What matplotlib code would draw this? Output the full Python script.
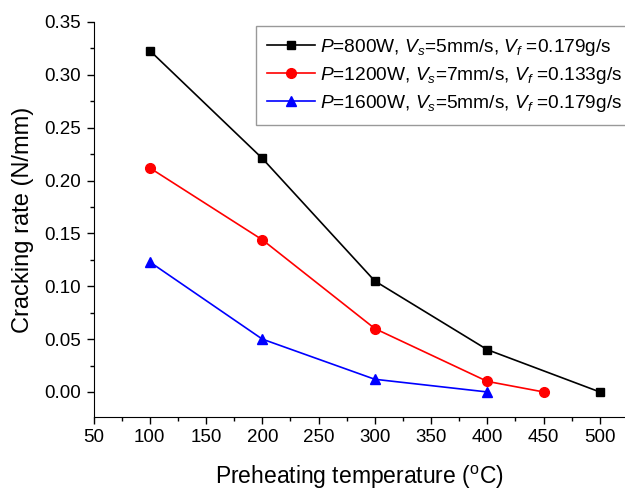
import matplotlib
matplotlib.use('Agg')
import matplotlib.pyplot as plt
from matplotlib.ticker import MultipleLocator

plt.rcParams['font.family'] = ['Liberation Sans', 'DejaVu Sans']
plt.rcParams['mathtext.fontset'] = 'custom'
plt.rcParams['mathtext.rm'] = 'Liberation Sans'
plt.rcParams['mathtext.it'] = 'Liberation Sans:italic'

# data
temp_800 = [100, 200, 300, 400, 500]
rate_800 = [0.323, 0.221, 0.105, 0.040, 0.000]
temp_1200 = [100, 200, 300, 400, 450]
rate_1200 = [0.212, 0.144, 0.060, 0.010, 0.000]
temp_1600 = [100, 200, 300, 400]
rate_1600 = [0.123, 0.050, 0.012, 0.000]

labels = [
    r'$P$=800W, $V_s$=5mm/s, $V_f$ =0.179g/s',
    r'$P$=1200W, $V_s$=7mm/s, $V_f$ =0.133g/s',
    r'$P$=1600W, $V_s$=5mm/s, $V_f$ =0.179g/s',
]

fig = plt.figure(figsize=(6.25, 4.91), dpi=100)
ax = fig.add_axes([0.1496, 0.1507, 0.8504, 0.8045])

ax.plot(temp_800, rate_800, color='black', marker='s', ms=6, lw=1.2, label=labels[0])
ax.plot(temp_1200, rate_1200, color='red', marker='o', ms=7, lw=1.2, label=labels[1])
ax.plot(temp_1600, rate_1600, color='blue', marker='^', ms=7.5, lw=1.2, label=labels[2])

ax.set_xlim(50, 522.4)
ax.set_ylim(-0.0237, 0.35)
ax.xaxis.set_major_locator(MultipleLocator(50))
ax.xaxis.set_minor_locator(MultipleLocator(25))
ax.yaxis.set_major_locator(MultipleLocator(0.05))
ax.yaxis.set_minor_locator(MultipleLocator(0.025))
ax.yaxis.set_major_formatter(plt.FuncFormatter(lambda v, p: f'{v:.2f}'))

ax.spines['top'].set_visible(False)
ax.spines['right'].set_visible(False)
ax.tick_params(which='major', direction='out', length=5, width=1, labelsize=13.5)
ax.tick_params(axis='x', which='major', pad=3.3)
ax.tick_params(axis='y', which='major', pad=4.3)
ax.tick_params(which='minor', direction='out', length=3, width=1)

ax.set_xlabel(r'Preheating temperature ($^{\rm o}$C)', fontsize=16.5, labelpad=13)
ax.set_ylabel('Cracking rate (N/mm)', fontsize=17, labelpad=7)

leg = ax.legend(loc='upper left', bbox_to_anchor=(0.41, 0.947), bbox_transform=fig.transFigure,
                borderaxespad=0, fontsize=13.8, fancybox=False, edgecolor='gray',
                handlelength=2.5, labelspacing=0.38, handletextpad=0.26, borderpad=0.55)
leg.get_frame().set_linewidth(1)

fig.savefig('out.png', dpi=100)
